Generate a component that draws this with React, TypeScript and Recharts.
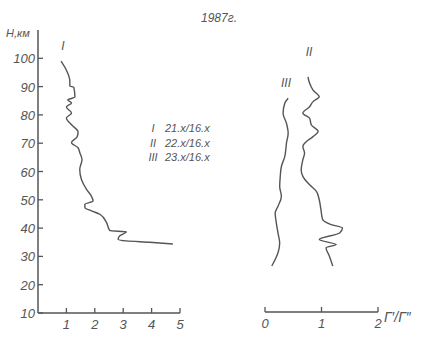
import React from "react";
import { ScatterChart, Scatter, XAxis, YAxis } from "recharts";

// curve I (left panel): ratio vs height
const curveIx = [0.81, 1.0, 1.12, 1.12, 1.26, 1.3, 1.05, 1.18, 1.0, 1.18, 1.0, 1.18, 1.41, 1.38, 1.18, 1.41, 1.47, 1.55, 1.47, 1.53, 1.71, 1.88, 1.94, 1.65, 1.65, 1.88, 2.18, 2.41, 2.53, 3.11, 2.88, 2.82, 3.11, 3.93, 4.75];
const curveIh = [99, 95.8, 92, 90.2, 89.8, 86.3, 85.3, 84.2, 82.8, 80.7, 78.9, 76.5, 74, 72.3, 70.2, 68.4, 66.7, 64.2, 60.7, 57.2, 53.7, 51.3, 49.6, 48.4, 47.3, 46.1, 44.9, 42, 39.1, 38.7, 37.3, 36.1, 35.5, 35, 34.4];

// curve II (right panel)
const curveIIx = [0.76, 0.79, 0.85, 0.96, 0.85, 0.79, 0.67, 0.79, 0.82, 0.94, 0.85, 0.73, 0.67, 0.7, 0.67, 0.64, 0.67, 0.79, 0.91, 0.96, 0.99, 1.02, 1.17, 1.37, 1.32, 0.96, 1.26, 1.08, 1.14, 1.2];
const curveIIh = [93.4, 91.1, 88.7, 86.3, 84.6, 82.8, 80.5, 78.7, 76.3, 74, 72.2, 70.4, 68.7, 66.3, 64, 60.4, 58.1, 55.1, 52.8, 49.8, 46.3, 42.8, 41, 39.8, 38, 35.7, 33.9, 32.8, 29.8, 26.3];

// curve III (right panel)
const curveIIIx = [0.41, 0.35, 0.32, 0.38, 0.41, 0.38, 0.35, 0.29, 0.27, 0.26, 0.29, 0.23, 0.18, 0.2, 0.23, 0.26, 0.23, 0.18, 0.12];
const curveIIIh = [85.8, 84, 80.5, 76.9, 73.4, 69.9, 65.1, 61.6, 58.1, 54.5, 51, 47.5, 45.1, 41.6, 38, 34.5, 31, 28.6, 26.3];

const leftXTicks = [1, 2, 3, 4, 5];
const leftYTicks = [10, 20, 30, 40, 50, 60, 70, 80, 90, 100];
const rightXTicks = [0, 1, 2];

const legendRows = [
  { num: "I", date: "21.x/16.x" },
  { num: "II", date: "22.x/16.x" },
  { num: "III", date: "23.x/16.x" },
];

const toPoints = (xs: number[], hs: number[]) => xs.map((x, i) => ({ x, h: hs[i] }));

const INK = "#555";
const FONT = "'Liberation Sans', Arial, sans-serif";

const XTick = (props: any) => {
  const { x, y, payload } = props;
  return (
    <g>
      <line x1={x} y1={y} x2={x} y2={y - 5} stroke={INK} strokeWidth={1.3} />
      <text x={x} y={y + 16} textAnchor="middle" fill={INK} fontSize={13} fontStyle="italic" fontFamily={FONT}>
        {payload.value}
      </text>
    </g>
  );
};

const YTick = (props: any) => {
  const { x, y, payload } = props;
  return (
    <g>
      <line x1={x} y1={y} x2={x + 5} y2={y} stroke={INK} strokeWidth={1.3} />
      <text x={x - 3} y={y + 5} textAnchor="end" fill={INK} fontSize={13} fontStyle="italic" fontFamily={FONT}>
        {payload.value}
      </text>
    </g>
  );
};

const noDot = () => <g />;
const lineStyle = { stroke: INK, strokeWidth: 1.4, fill: "none" };

const layer: React.CSSProperties = { position: "absolute", left: 0, top: 0 };

export default function App() {
  return (
    <div style={{ position: "absolute", left: 0, top: 0, width: 427, height: 341, background: "#fff" }}>
      <div style={layer}>
        <ScatterChart width={427} height={341} margin={{ top: 30, right: 247, bottom: 8, left: 8 }}>
          <XAxis
            type="number"
            dataKey="x"
            domain={[0, 5]}
            ticks={leftXTicks}
            height={20}
            tickSize={0}
            tickMargin={0}
            tick={<XTick />}
            axisLine={{ stroke: INK, strokeWidth: 1.5 }}
            allowDataOverflow
          />
          <YAxis
            type="number"
            dataKey="h"
            domain={[10, 110]}
            ticks={leftYTicks}
            width={30}
            tickSize={0}
            tickMargin={0}
            tick={<YTick />}
            axisLine={{ stroke: INK, strokeWidth: 1.5 }}
            allowDataOverflow
          />
          <Scatter data={toPoints(curveIx, curveIh)} line={lineStyle} lineJointType="monotoneY" shape={noDot} isAnimationActive={false} />
        </ScatterChart>
      </div>
      <div style={layer}>
        <ScatterChart width={427} height={341} margin={{ top: 30, right: 49, bottom: 9, left: 265 }}>
          <XAxis
            type="number"
            dataKey="x"
            domain={[0, 2]}
            ticks={rightXTicks}
            height={20}
            tickSize={0}
            tickMargin={0}
            tick={<XTick />}
            axisLine={{ stroke: INK, strokeWidth: 1.5 }}
            allowDataOverflow
          />
          <YAxis type="number" dataKey="h" domain={[10, 110]} hide width={0} />
          <Scatter data={toPoints(curveIIx, curveIIh)} line={lineStyle} lineJointType="monotoneY" shape={noDot} isAnimationActive={false} />
          <Scatter data={toPoints(curveIIIx, curveIIIh)} line={lineStyle} lineJointType="monotoneY" shape={noDot} isAnimationActive={false} />
        </ScatterChart>
      </div>
      <svg width={427} height={341} style={{ ...layer, pointerEvents: "none" }} fontFamily={FONT} fontStyle="italic" fill={INK}>
        <text x={219} y={22} textAnchor="middle" fontSize={12}>1987г.</text>
        <text x={6} y={37} fontSize={11}>H,км</text>
        <text x={63} y={50} textAnchor="middle" fontSize={12}>I</text>
        <text x={309} y={56} textAnchor="middle" fontSize={12}>II</text>
        <text x={286} y={87} textAnchor="middle" fontSize={12}>III</text>
        {legendRows.map((r, i) => (
          <g key={r.num}>
            <text x={153} y={132 + i * 14.5} textAnchor="middle" fontSize={11}>{r.num}</text>
            <text x={165} y={132 + i * 14.5} fontSize={11}>{r.date}</text>
          </g>
        ))}
        <text x={384} y={322} fontSize={14}>Г′/Г″</text>
      </svg>
    </div>
  );
}
